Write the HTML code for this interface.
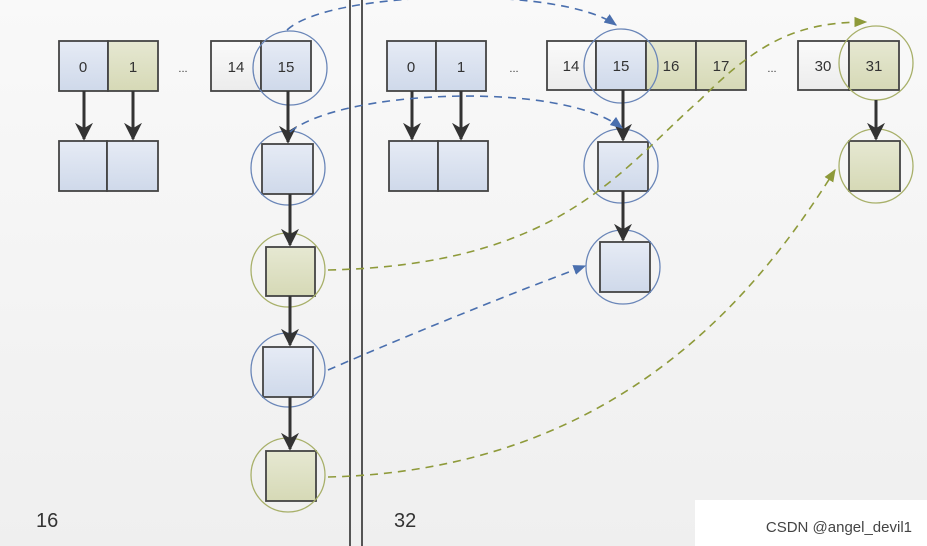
<!DOCTYPE html>
<html><head><meta charset="utf-8"><style>
html,body{margin:0;padding:0;background:#fff;}
svg{display:block;font-family:"Liberation Sans",sans-serif;}
</style></head><body>
<svg width="927" height="546" viewBox="0 0 927 546" xmlns="http://www.w3.org/2000/svg">
<defs>
<linearGradient id="bg" x1="0" y1="0" x2="0" y2="1"><stop offset="0" stop-color="#f9f9f9"/><stop offset="1" stop-color="#efefef"/></linearGradient>
<linearGradient id="bl" x1="0" y1="0" x2="0" y2="1"><stop offset="0" stop-color="#e6ebf5"/><stop offset="1" stop-color="#cfd9ea"/></linearGradient>
<linearGradient id="gr" x1="0" y1="0" x2="0" y2="1"><stop offset="0" stop-color="#e6e8d2"/><stop offset="1" stop-color="#d6d9b6"/></linearGradient>
<linearGradient id="wh" x1="0" y1="0" x2="0" y2="1"><stop offset="0" stop-color="#fafafa"/><stop offset="1" stop-color="#ececec"/></linearGradient>
<marker id="ak" viewBox="0 0 10 10" refX="9" refY="5" markerWidth="6" markerHeight="6" orient="auto"><path d="M0,0 L10,5 L0,10 L3,5 Z" fill="#333"/></marker>
<marker id="ab" viewBox="0 0 10 10" refX="9" refY="5" markerWidth="8" markerHeight="8" orient="auto"><path d="M0,1 L10,5 L0,9 Z" fill="#4a6fae"/></marker>
<marker id="ag" viewBox="0 0 10 10" refX="9" refY="5" markerWidth="8" markerHeight="8" orient="auto"><path d="M0,1 L10,5 L0,9 Z" fill="#8e9a3a"/></marker>
</defs>
<rect width="927" height="546" fill="url(#bg)"/>
<line x1="350" y1="0" x2="350" y2="546" stroke="#555" stroke-width="2"/>
<line x1="362" y1="0" x2="362" y2="546" stroke="#555" stroke-width="2"/>
<g stroke="#444" stroke-width="1.8">
<rect x="59" y="41" width="49" height="50" fill="url(#bl)"/>
<rect x="108" y="41" width="50" height="50" fill="url(#gr)"/>
<rect x="59" y="141" width="48" height="50" fill="url(#bl)"/>
<rect x="107" y="141" width="51" height="50" fill="url(#bl)"/>
<rect x="211" y="41" width="50" height="50" fill="url(#wh)"/>
<rect x="261" y="41" width="50" height="50" fill="url(#bl)"/>
<rect x="262" y="144" width="51" height="50" fill="url(#bl)"/>
<rect x="266" y="247" width="49" height="49" fill="url(#gr)"/>
<rect x="263" y="347" width="50" height="50" fill="url(#bl)"/>
<rect x="266" y="451" width="50" height="50" fill="url(#gr)"/>
<rect x="387" y="41" width="49" height="50" fill="url(#bl)"/>
<rect x="436" y="41" width="50" height="50" fill="url(#bl)"/>
<rect x="389" y="141" width="49" height="50" fill="url(#bl)"/>
<rect x="438" y="141" width="50" height="50" fill="url(#bl)"/>
<rect x="547" y="41" width="49" height="49" fill="url(#wh)"/>
<rect x="596" y="41" width="50" height="49" fill="url(#bl)"/>
<rect x="646" y="41" width="50" height="49" fill="url(#gr)"/>
<rect x="696" y="41" width="50" height="49" fill="url(#gr)"/>
<rect x="798" y="41" width="51" height="49" fill="url(#wh)"/>
<rect x="849" y="41" width="50" height="49" fill="url(#gr)"/>
<rect x="598" y="142" width="50" height="49" fill="url(#bl)"/>
<rect x="600" y="242" width="50" height="50" fill="url(#bl)"/>
<rect x="849" y="141" width="51" height="50" fill="url(#gr)"/>
</g>
<g font-size="15" text-anchor="middle" fill="#333">
<text x="83" y="72">0</text><text x="133" y="72">1</text><text x="236" y="72">14</text><text x="286" y="72">15</text>
<text x="411" y="72">0</text><text x="461" y="72">1</text><text x="571" y="71">14</text><text x="621" y="71">15</text>
<text x="671" y="71">16</text><text x="721" y="71">17</text><text x="823" y="71">30</text><text x="874" y="71">31</text>
<text x="183" y="72" font-size="11">...</text><text x="514" y="72" font-size="11">...</text><text x="772" y="72" font-size="11">...</text>
</g>
<g fill="none" stroke-width="1.3">
<circle cx="290" cy="68" r="37" stroke="#6a86b8"/>
<circle cx="288" cy="168" r="37" stroke="#6a86b8"/>
<circle cx="288" cy="270" r="37" stroke="#a8b06a"/>
<circle cx="288" cy="370" r="37" stroke="#6a86b8"/>
<circle cx="288" cy="475" r="37" stroke="#a8b06a"/>
<circle cx="621" cy="66" r="37" stroke="#6a86b8"/>
<circle cx="621" cy="166" r="37" stroke="#6a86b8"/>
<circle cx="623" cy="267" r="37" stroke="#6a86b8"/>
<circle cx="876" cy="63" r="37" stroke="#a8b06a"/>
<circle cx="876" cy="166" r="37" stroke="#a8b06a"/>
</g>
<g stroke="#333" stroke-width="3" marker-end="url(#ak)">
<line x1="84" y1="91" x2="84" y2="139"/><line x1="133" y1="91" x2="133" y2="139"/>
<line x1="288" y1="91" x2="288" y2="142"/><line x1="290" y1="194" x2="290" y2="245"/>
<line x1="290" y1="296" x2="290" y2="345"/><line x1="290" y1="397" x2="290" y2="449"/>
<line x1="412" y1="91" x2="412" y2="139"/><line x1="461" y1="91" x2="461" y2="139"/>
<line x1="623" y1="90" x2="623" y2="140"/><line x1="623" y1="191" x2="623" y2="240"/>
<line x1="876" y1="100" x2="876" y2="139"/>
</g>
<g fill="none" stroke-width="1.6" stroke-dasharray="8,6">
<path d="M287,30 C330,-10 560,-15 616,25" stroke="#4a6fae" marker-end="url(#ab)"/>
<path d="M290,132 C340,90 560,80 622,128" stroke="#4a6fae" marker-end="url(#ab)"/>
<path d="M328,370 C420,330 520,290 585,266" stroke="#4a6fae" marker-end="url(#ab)"/>
<path d="M328,270 C560,265 620,170 700,100 C760,40 800,22 866,22" stroke="#8e9a3a" marker-end="url(#ag)"/>
<path d="M328,477 C620,470 760,290 835,170" stroke="#8e9a3a" marker-end="url(#ag)"/>
</g>
<text x="36" y="527" font-size="20" fill="#333">16</text>
<text x="394" y="527" font-size="20" fill="#333">32</text>
<rect x="695" y="500" width="232" height="46" fill="#fff"/>
<text x="912" y="532" font-size="15" fill="#444" text-anchor="end">CSDN @angel_devil1</text>
</svg>
</body></html>
